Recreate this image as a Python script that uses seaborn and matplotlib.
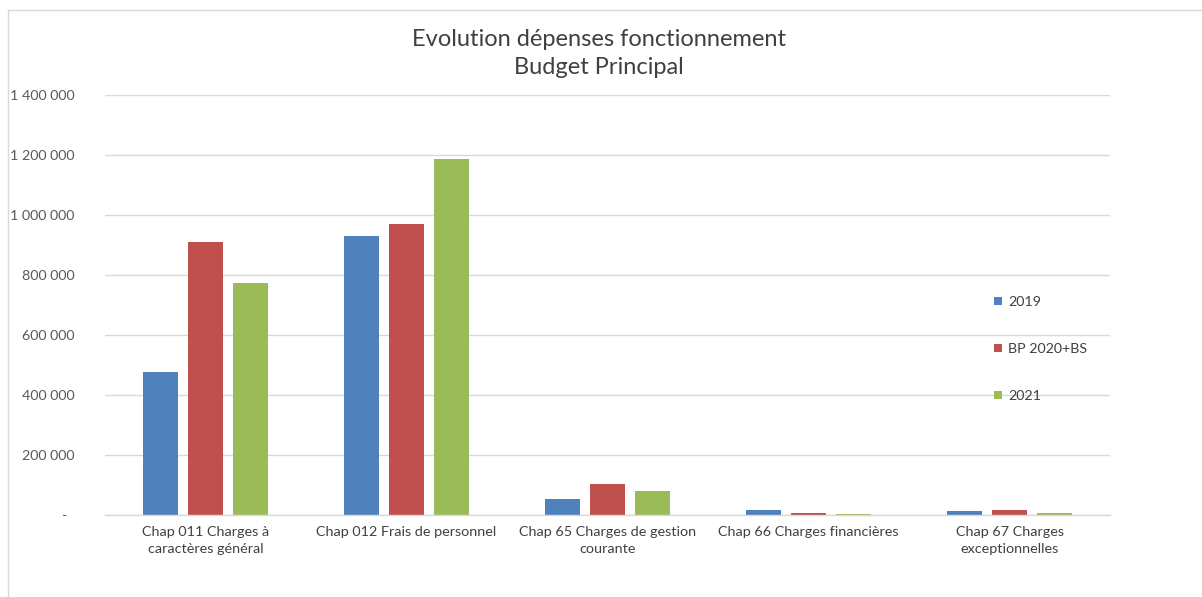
import matplotlib
matplotlib.use("Agg")
import matplotlib.pyplot as plt
import seaborn as sns
import pandas as pd
from matplotlib.ticker import FuncFormatter, MultipleLocator
from matplotlib.patches import Rectangle

categories = ["Chap 011 Charges à\ncaractères général",
              "Chap 012 Frais de personnel",
              "Chap 65 Charges de gestion\ncourante",
              "Chap 66 Charges financières",
              "Chap 67 Charges\nexceptionnelles"]
series = ["2019", "BP 2020+BS", "2021"]
v2019 = [477000, 930000, 54000, 17000, 12000]
vbp = [910000, 970000, 103000, 8000, 17000]
v2021 = [772000, 1187000, 79000, 3000, 8000]
colors = ["#4F81BD", "#C0504D", "#9BBB59"]

rows = []
for s, vals in zip(series, [v2019, vbp, v2021]):
    for c, v in zip(categories, vals):
        rows.append({"cat": c, "serie": s, "val": v})
df = pd.DataFrame(rows)

sns.set_theme(style="white")
plt.rcParams["font.family"] = ["Lato", "DejaVu Sans"]

fig = plt.figure(figsize=(12.02, 5.97), dpi=100)
ax = fig.add_axes([105/1202, 1-515/597, (1110-105)/1202, (515-95)/597])

sns.barplot(data=df, x="cat", y="val", hue="serie", hue_order=series,
            palette=colors, width=0.67, gap=0.22, ax=ax, saturation=1,
            edgecolor="none", legend=True)

ax.set_ylim(0, 1400000)
ax.set_xlim(-0.5, 4.5)
ax.yaxis.set_major_locator(MultipleLocator(200000))
def fmt(v, pos):
    if abs(v) < 1:
        return "-  "
    return f"{int(round(v)):,}".replace(",", " ")
ax.yaxis.set_major_formatter(FuncFormatter(fmt))
ax.grid(axis="y", color="#D9D9D9", linewidth=1)
ax.set_axisbelow(True)
for s in ["top", "right", "left"]:
    ax.spines[s].set_visible(False)
ax.spines["bottom"].set_color("#D9D9D9")
ax.spines["bottom"].set_linewidth(1)
ax.tick_params(axis="y", length=0, pad=22, labelsize=10.3, labelcolor="#595959")
ax.tick_params(axis="x", length=0, pad=8, labelsize=10.4, labelcolor="#404040")
for lbl in ax.get_xticklabels():
    lbl.set_linespacing(1.45)
ax.set_xlabel("")
ax.set_ylabel("")

fig.text(599/1202, 1-40/597, "Evolution dépenses fonctionnement", ha="center", va="center",
         fontsize=17, color="#404040")
fig.text(599/1202, 1-68/597, "Budget Principal", ha="center", va="center",
         fontsize=17, color="#404040")

leg = ax.legend(loc="upper left", bbox_to_anchor=(987/1202, 1-289/597),
                bbox_transform=fig.transFigure, frameon=False, fontsize=10.3,
                handlelength=0.55, handleheight=0.55, handletextpad=0.45,
                labelspacing=2.45, borderpad=0)
for t in leg.get_texts():
    t.set_color("#404040")

fig.patches.append(Rectangle((8/1202, -0.1), 1.2, 1-10/597+0.1, transform=fig.transFigure,
                             fill=False, edgecolor="#D9D9D9", linewidth=1))

fig.savefig("out.png", dpi=100, facecolor="white")
